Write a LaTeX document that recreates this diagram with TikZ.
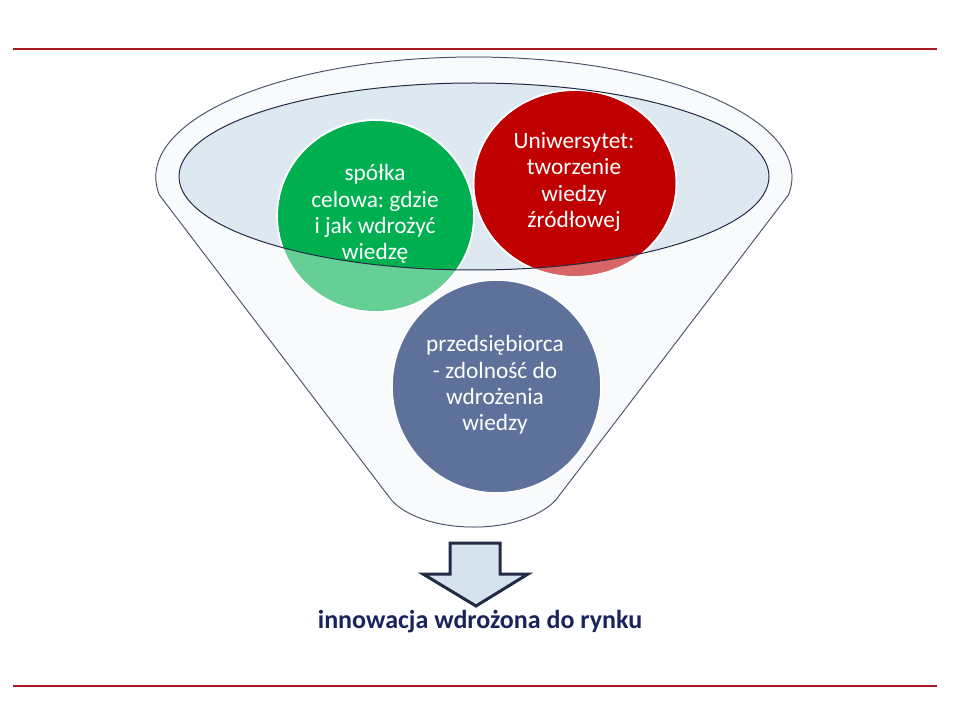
\documentclass[tikz,border=0pt]{standalone}
\usepackage{fontspec}
\setmainfont{Carlito}
\frenchspacing

\definecolor{ruleRed}{RGB}{170,24,34}
\definecolor{funnelLine}{RGB}{33,43,70}
\definecolor{funnelFill}{RGB}{246,248,250}
\definecolor{mouthFill}{RGB}{222,232,241}
\definecolor{ballGreen}{RGB}{0,176,80}
\definecolor{ballRed}{RGB}{192,0,0}
\definecolor{ballBlue}{RGB}{94,113,155}
\definecolor{arrowFill}{RGB}{214,227,238}
\definecolor{navyText}{RGB}{25,36,94}

\tikzset{every picture/.style={line width=0.75pt}}
\tikzset{
	ball/.style={draw=white, line width=1.2pt},
	ball text/.style={text=white, align=center, inner sep=0.75pt, font=\fontsize{17.5}{19.8}\selectfont},
	rule line/.style={draw=ruleRed, line width=0.9pt}}

\begin{document}
\begin{tikzpicture}[x=0.75pt,y=0.75pt,yscale=-1,xscale=1]
\useasboundingbox (0,0) rectangle (960,720);
\fill[white] (0,0) rectangle (960,720);

%Straight Lines
\draw [rule line] (13,49) -- (937,49) ;
%Straight Lines
\draw [rule line] (13,686) -- (937,686) ;

%Shape: Funnel
\draw [draw=funnelLine, fill=funnelFill] (159.5,195) arc [start angle=171.4, end angle=368.6, x radius=318, y radius=120] -- (558,497) .. controls (548,511) and (518,527) .. (474,527) .. controls (430,527) and (400,512) .. (390,498) -- cycle ;
%Shape: Ellipse
\fill [mouthFill] (474,176.5) ellipse [x radius=295, y radius=93.5] ;

%Shape: Circle
\fill [ball, fill=ballGreen] (375.5,216) ellipse [x radius=98.5, y radius=96] ;
%Shape: Circle
\fill [ball, fill=ballRed] (575,183.5) ellipse [x radius=101.5, y radius=93.5] ;
\draw [white, line width=1.2pt] (375.5,216) ellipse [x radius=98.5, y radius=96] ;
\draw [white, line width=1.2pt] (575,183.5) ellipse [x radius=101.5, y radius=93.5] ;

% Text Node
\node [ball text] (spolka) at (375,214) {spółka\\celowa: gdzie\\i jak wdrożyć\\wiedzę};
% Text Node
\node [ball text] (uniwersytet) at (574,182) {Uniwersytet:\\tworzenie\\wiedzy\\źródłowej};

%Shape: Funnel front (veil over the balls)
\fill [white, fill opacity=0.4, even odd rule] (159.5,195) arc [start angle=171.4, end angle=368.6, x radius=318, y radius=120] -- (558,497) .. controls (548,511) and (518,527) .. (474,527) .. controls (430,527) and (400,512) .. (390,498) -- cycle (474,176.5) ellipse [x radius=295, y radius=93.5] ;
%Shape: Ellipse
\draw [funnelLine] (474,176.5) ellipse [x radius=295, y radius=93.5] ;

%Shape: Circle
\draw [ball, fill=ballBlue] (496.5,386.5) ellipse [x radius=104.5, y radius=106.5] ;
% Text Node
\node [ball text] (przedsiebiorca) at (495,385) {przedsiębiorca\\- zdolność do\\wdrożenia\\wiedzy};

%Shape: Down Arrow
\draw [draw=funnelLine, fill=arrowFill, line width=2.25pt, line join=miter] (450,543) -- (500,543) -- (500,574) -- (528,574) -- (476,606) -- (423,574) -- (450,574) -- cycle ;

% Text Node
\node [anchor=base, inner sep=0.75pt, text=navyText, font=\fontsize{19.5}{23}\selectfont\bfseries] (innowacja) at (480,628) {innowacja wdrożona do rynku};

\end{tikzpicture}
\end{document}
